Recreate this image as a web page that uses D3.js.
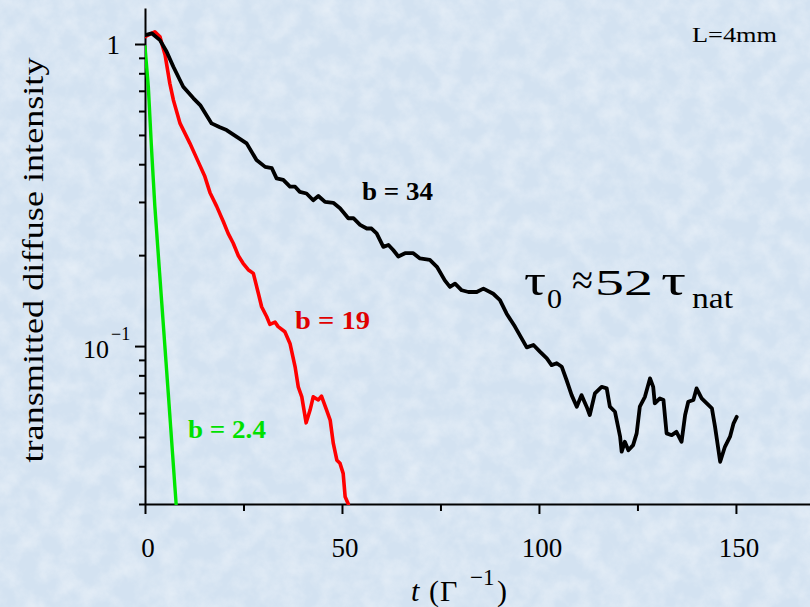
<!DOCTYPE html>
<html>
<head>
<meta charset="utf-8">
<script src="https://cdn.jsdelivr.net/npm/d3@7"></script>
<style>
  html, body { margin: 0; padding: 0; background: #d9e6f3; }
  svg { display: block; }
  text { font-family: "Liberation Serif", "Times New Roman", serif; }
</style>
</head>
<body>
<div id="chart"></div>
<script>
// curve b = 34 (black)
const b34T = [0, 1.7, 3.8, 5.5, 7.2, 9.7, 12.3, 14.0, 16.9, 19.0, 20.7, 23.3, 25.8, 28.3, 30.5, 32.2, 33.4, 35.1, 36.8, 38.1,
  39.3, 41.0, 42.7, 44.0, 45.7, 47.8, 49.5, 50.3, 51.6, 52.9, 54.6, 56.3, 57.5, 58.8, 60.5, 61.8, 63.0, 64.3, 66.0, 68.1,
  69.8, 72.3, 74.1, 76.1, 77.4, 78.7, 80.4, 82.1, 84.2, 85.9, 88.4, 90.1, 91.8, 93.9, 95.6, 96.9, 98.6, 100.3, 102.0, 103.2,
  104.5, 105.8, 107.0, 108.3, 109.6, 110.8, 112.1, 112.9, 114.2, 115.9, 117.2, 118.0, 119.3, 120.6, 121.0, 121.8, 122.7, 123.9, 124.8, 125.6,
  126.9, 128.2, 129.0, 129.4, 130.7, 131.6, 132.4, 133.7, 134.9, 136.2, 137.1, 137.9, 139.2, 140.0, 141.3, 142.6, 143.9, 144.7, 146.0, 147.2,
  148.5, 149.4, 150.2];
const b34I = [1.07, 1.085, 1.03, 0.943, 0.841, 0.722, 0.661, 0.628, 0.546, 0.530, 0.519, 0.493, 0.469, 0.413, 0.392, 0.388, 0.359, 0.355, 0.337, 0.337,
  0.324, 0.320, 0.304, 0.314, 0.300, 0.298, 0.286, 0.278, 0.265, 0.265, 0.252, 0.245, 0.245, 0.236, 0.213, 0.216, 0.208, 0.198, 0.203, 0.203,
  0.195, 0.193, 0.183, 0.165, 0.157, 0.161, 0.153, 0.151, 0.151, 0.155, 0.149, 0.142, 0.128, 0.116, 0.106, 0.099, 0.1008, 0.0957, 0.0911, 0.0865,
  0.0877, 0.0854, 0.0772, 0.0688, 0.0630, 0.0688, 0.0630, 0.0591, 0.0697, 0.0733, 0.0724, 0.0630, 0.0606, 0.0501, 0.0447, 0.0482, 0.0452, 0.0470, 0.0514, 0.0630,
  0.0679, 0.0782, 0.0733, 0.0646, 0.0671, 0.0663, 0.0514, 0.0507, 0.0520, 0.0482, 0.0591, 0.0654, 0.0663, 0.0724, 0.0671, 0.0646, 0.0622, 0.0540, 0.0414, 0.0464,
  0.0501, 0.0555, 0.0583];

// curve b = 19 (red)
const b19T = [0, 2.5, 3.8, 5.1, 6.3, 7.2, 8.9, 11.4, 13.5, 15.2, 16.5, 18.2, 19.9, 21.1, 22.4, 23.7, 24.9, 26.2, 27.5, 28.8,
  29.6, 30.9, 31.7, 33.0, 33.8, 35.5, 36.8, 38.1, 38.9, 39.8, 40.9, 41.9, 42.7, 44.0, 44.8, 46.1, 47.0, 47.8, 48.7, 49.5,
  50.3, 50.8, 51.6];
const b19I = [1.057, 1.098, 1.057, 0.92, 0.741, 0.653, 0.546, 0.469, 0.408, 0.364, 0.322, 0.29, 0.258, 0.236, 0.219, 0.199, 0.188, 0.179, 0.174, 0.149,
  0.135, 0.125, 0.118, 0.120, 0.116, 0.1115, 0.102, 0.0854, 0.0733, 0.0679, 0.0557, 0.0614, 0.0679, 0.0663, 0.0683, 0.0614, 0.0569, 0.0476, 0.0419, 0.0409,
  0.0379, 0.0317, 0.0300];

// curve b = 2.4 (green)
const b24T = [0, 0.85, 1.7, 2.5, 3.7, 5.9, 7.9];
const b24I = [0.98, 0.72, 0.44, 0.29, 0.175, 0.07, 0.03];

// ticks
const xMajor = [0, 50, 100, 150];
const xMinor = [25, 75, 125];
const yMajor = [1, 0.1];
const yMinor = [0.9, 0.8, 0.7, 0.6, 0.5, 0.4, 0.3, 0.2, 0.09, 0.08, 0.07, 0.06, 0.05, 0.04, 0.03];

const W = 810, H = 607;
const svg = d3.select('#chart').append('svg').attr('width', W).attr('height', H);

// textured pale blue background
const defs = svg.append('defs');
const filt = defs.append('filter').attr('id', 'tex').attr('x', 0).attr('y', 0).attr('width', '100%').attr('height', '100%');
filt.append('feTurbulence').attr('type', 'fractalNoise').attr('baseFrequency', 0.05).attr('numOctaves', 4).attr('seed', 7);
filt.append('feColorMatrix').attr('type', 'matrix')
  .attr('values', '0 0 0 0 1  0 0 0 0 1  0 0 0 0 1  0.9 0 0 0 -0.3');
svg.append('rect').attr('width', W).attr('height', H).attr('fill', '#d3e2f1');
svg.append('rect').attr('width', W).attr('height', H).attr('filter', 'url(#tex)').attr('opacity', 0.75);

const x = d3.scaleLinear().domain([0, 168.8]).range([145, 810]);
const y = d3.scaleLog().domain([0.03, 1.316]).range([504, 8]);

// stretch a text horizontally so that it spans `w` pixels from its x
function fitWidth(sel, x0, w) {
  const bw = sel.node().getBBox().width;
  sel.attr('transform', `translate(${x0},0) scale(${w / bw},1) translate(${-x0},0)`);
}

// axes
const axisStyle = g => {
  g.select('.domain').attr('stroke', '#000').attr('stroke-width', 2);
  g.selectAll('.tick line').attr('stroke', '#000').attr('stroke-width', 2);
};
svg.append('g').attr('transform', `translate(0,${y(0.03)})`)
  .call(d3.axisBottom(x).tickValues(xMajor).tickSize(10).tickSizeOuter(0).tickFormat(''))
  .call(axisStyle);
svg.append('g').attr('transform', `translate(0,${y(0.03)})`)
  .call(d3.axisBottom(x).tickValues(xMinor).tickSize(7).tickSizeOuter(0).tickFormat(''))
  .call(g => g.select('.domain').remove())
  .call(axisStyle);
svg.append('g').attr('transform', `translate(${x(0)},0)`)
  .call(d3.axisLeft(y).tickValues(yMajor).tickSize(10).tickSizeOuter(0).tickFormat(''))
  .call(axisStyle);
svg.append('g').attr('transform', `translate(${x(0)},0)`)
  .call(d3.axisLeft(y).tickValues(yMinor).tickSize(6).tickSizeOuter(0).tickFormat(''))
  .call(g => g.select('.domain').remove())
  .call(axisStyle);

// tick labels
svg.selectAll('.xl').data(xMajor).enter().append('text')
  .attr('x', d => x(d) + 3).attr('y', 557)
  .attr('text-anchor', 'middle').attr('font-size', 27).text(d => d);
svg.append('text').attr('x', 120).attr('y', y(1) + 10)
  .attr('text-anchor', 'end').attr('font-size', 27).text('1');
const t10 = svg.append('text').attr('x', 83).attr('y', y(0.1) + 12).attr('font-size', 26);
t10.append('tspan').text('10');
t10.append('tspan').attr('dy', -18).attr('dx', 2).attr('font-size', 18).text('\u22121');

// axis titles
svg.append('text')
  .attr('transform', 'translate(43,260) rotate(-90)')
  .attr('text-anchor', 'middle').attr('font-size', 29)
  .attr('textLength', 405).attr('lengthAdjust', 'spacingAndGlyphs')
  .text('transmitted diffuse intensity');
const xt = svg.append('text').attr('y', 601).attr('font-size', 30);
xt.append('tspan').attr('x', 411).attr('font-style', 'italic').text('t');
xt.append('tspan').attr('x', 429).text('(');
xt.append('tspan').attr('x', 440).text('\u0393');
xt.append('tspan').attr('x', 470).attr('y', 585).attr('font-size', 23).text('\u22121');
xt.append('tspan').attr('x', 497).attr('y', 601).text(')');

// curves
const line = d3.line().x(d => x(d[0])).y(d => y(d[1]));
const series = [
  { t: b24T, v: b24I, color: '#00e600', w: 3.4 },
  { t: b19T, v: b19I, color: '#ff0000', w: 3.6 },
  { t: b34T, v: b34I, color: '#000000', w: 3.8 }
];
defs.append('clipPath').attr('id', 'plot').append('rect')
  .attr('x', x(0)).attr('y', 0).attr('width', W - x(0)).attr('height', y(0.03) + 1);
svg.append('g').attr('clip-path', 'url(#plot)')
  .selectAll('path').data(series).enter().append('path')
  .attr('d', s => line(s.t.map((t, i) => [t, s.v[i]])))
  .attr('fill', 'none').attr('stroke', s => s.color)
  .attr('stroke-width', s => s.w).attr('stroke-linejoin', 'round').attr('stroke-linecap', 'round');

// annotations
const labels = [
  { text: 'b = 34', x: 362, y: 200, w: 71, color: '#000000' },
  { text: 'b = 19', x: 295, y: 329, w: 75, color: '#e00000' },
  { text: 'b = 2.4', x: 188, y: 438, w: 78, color: '#00e000' }
];
labels.forEach(l => {
  const t = svg.append('text').attr('x', l.x).attr('y', l.y).attr('font-size', 26)
    .attr('font-weight', 'bold').attr('fill', l.color).text(l.text);
  fitWidth(t, l.x, l.w);
});

// tau_0 ≈ 52 tau_nat, set piece by piece
const tauParts = [
  { s: '\u03c4', x: 524, y: 295, w: 22, size: 44 },
  { s: '0', x: 547, y: 308, w: 15, size: 28 },
  { s: '\u2248', x: 572, y: 295, w: 21, size: 44 },
  { s: '52', x: 595, y: 295, w: 58, size: 35 },
  { s: '\u03c4', x: 661, y: 295, w: 25, size: 44 },
  { s: 'nat', x: 692, y: 308, w: 41, size: 29 }
];
tauParts.forEach(p => {
  const t = svg.append('text').attr('x', p.x).attr('y', p.y).attr('font-size', p.size)
    .style('font-family', '"Liberation Serif", "DejaVu Serif", serif')
    .attr('fill', '#000').text(p.s);
  fitWidth(t, p.x, p.w);
});

const lw = svg.append('text').attr('x', 692).attr('y', 42).attr('font-size', 21).text('L=4mm');
fitWidth(lw, 692, 85);
</script>
</body>
</html>
